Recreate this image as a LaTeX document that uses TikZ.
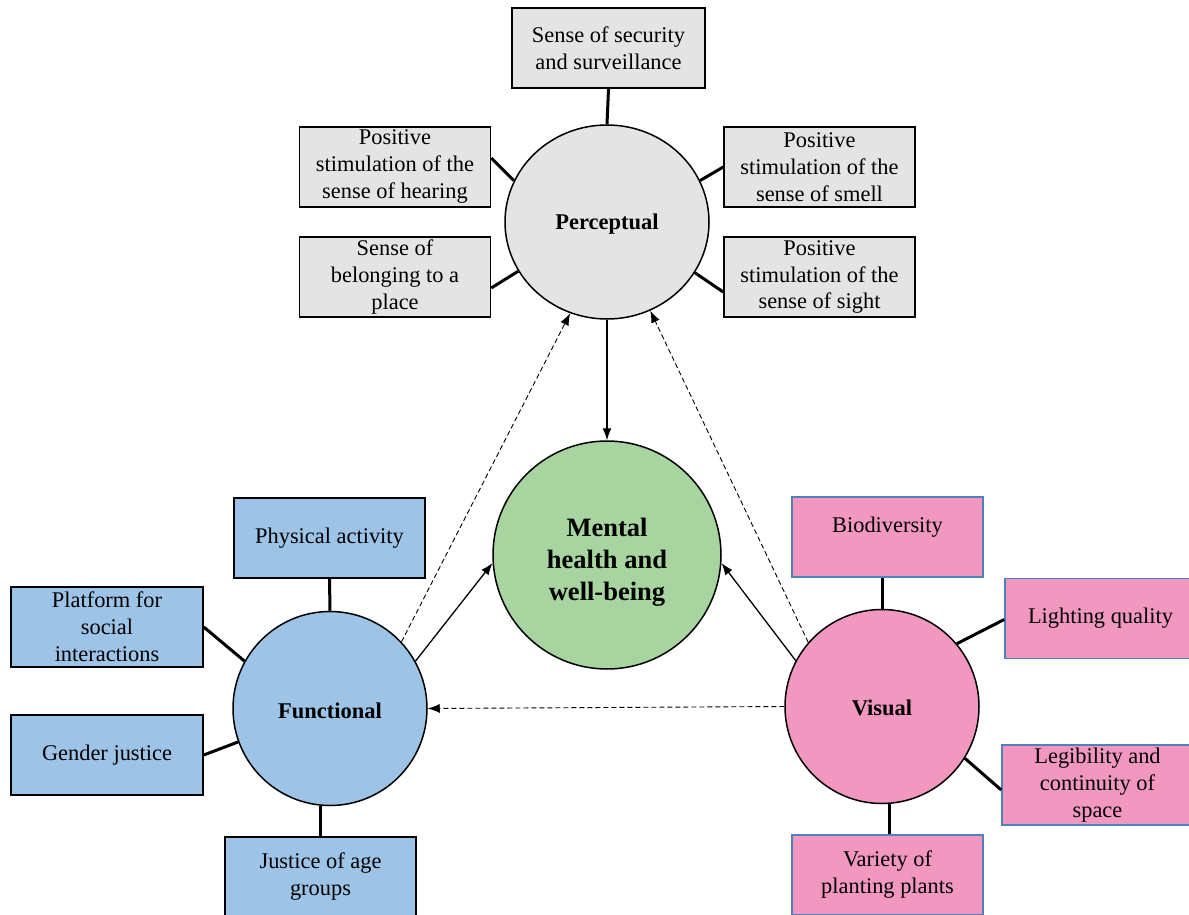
\documentclass[tikz,border=0pt]{standalone}
\usepackage{fontspec}
\setmainfont{Liberation Serif}
\usetikzlibrary{shapes.geometric,arrows.meta,calc}
\definecolor{grayfill}{HTML}{E3E4E3}
\definecolor{bluefill}{HTML}{9DC3E6}
\definecolor{greenfill}{HTML}{A8D49F}
\definecolor{pinkfill}{HTML}{F197C0}
\definecolor{pinkedge}{HTML}{4F81BD}
\begin{document}
\begin{tikzpicture}[x=1pt,y=-1pt,
  box/.style={draw=black, line width=1.5pt, minimum width=191pt, minimum height=80pt, inner sep=0pt, align=center, font=\fontsize{22.4}{27}\selectfont},
  gbox/.style={box, fill=grayfill},
  bbox/.style={box, fill=bluefill},
  pbox/.style={box, fill=pinkfill, draw=pinkedge},
  hub/.style={circle, draw=black, line width=1.5pt, minimum size=194pt, inner sep=0pt, align=center, font=\fontsize{22.5}{27}\selectfont\bfseries},
  link/.style={line width=3pt},
  flow/.style={line width=1.3pt, -{Latex[length=12pt,width=9pt]}},
  dflow/.style={line width=0.9pt, dash pattern=on 5pt off 3pt, -{Latex[length=12pt,width=9pt]}}
]
\useasboundingbox (0,0) rectangle (1189,915);
\clip (0,0) rectangle (1189,915);
\fill[white] (0,0) rectangle (1189,915);

% Perceptual
\node[hub, ellipse, fill=grayfill, minimum width=204pt, minimum height=194pt] (perc) at (607,222) {};
\node[font=\fontsize{22.5}{27}\selectfont\bfseries] (perctext) at (607,224) {Perceptual};
\node[gbox, minimum width=193pt] (sec) at (608.5,48) {Sense of security\\and surveillance};
\node[gbox] (hear) at (395,167) {Positive\\stimulation of the\\sense of hearing};
\node[gbox] (belong) at (395,277) {Sense of\\belonging to a\\place};
\node[gbox] (smell) at (819.5,167) {Positive\\stimulation of the\\sense of smell};
\node[gbox] (sight) at (819.5,277) {Positive\\stimulation of the\\sense of sight};

% Mental health
\node[hub, fill=greenfill, minimum size=228pt] (mental) at (607,555) {};
\node[align=center, font=\fontsize{26.5}{32}\selectfont\bfseries] (mentaltext) at (607,562) {Mental\\health and\\well-being};

% Functional
\node[hub, fill=bluefill] (func) at (330,708.5) {};
\node[font=\fontsize{22.5}{27}\selectfont\bfseries] (functext) at (330,711) {Functional};
\node[bbox] (phys) at (329.5,538) {Physical activity};
\node[bbox, minimum width=192pt] (plat) at (107,627) {Platform for\\social\\interactions};
\node[bbox, minimum width=192pt] (gender) at (107,755) {Gender justice};
\node[bbox] (just) at (320.5,877) {Justice of age\\groups};

% Visual
\node[hub, fill=pinkfill] (vis) at (882,706.5) {};
\node[font=\fontsize{22.5}{27}\selectfont\bfseries] (vistext) at (882,708) {Visual};
\node[pbox] (bio) at (887.5,537) {};
\node[font=\fontsize{22.4}{27}\selectfont] (biotext) at (887.5,527) {Biodiversity};
\node[pbox] (light) at (1100.5,618.5) {Lighting quality};
\node[pbox] (legib) at (1097.5,785) {Legibility and\\continuity of\\space};
\node[pbox] (var) at (887.5,875) {Variety of\\planting plants};

% box links
\draw[link] (sec.south) -- (perc.north);
\draw[link] ([yshift=9pt]hear.east) -- (perc.156);
\draw[link] ([yshift=-11pt]belong.east) -- (perc.209);
\draw[link] (smell.west) -- (perc.24);
\draw[link] ([yshift=-15pt]sight.west) -- (perc.-30);

\draw[link] (phys.south) -- (func.north);
\draw[link] (plat.east) -- (func.151);
\draw[link] (gender.east) -- (func.200);
\draw[link] (just.north) -- (just.north |- func.south);

\draw[link] (vis.north) -- (vis.north |- bio.south);
\draw[link] ([yshift=-1pt]light.west) -- (vis.40);
\draw[link] ([yshift=-5pt]legib.west) -- (vis.-32);
\draw[link] ([xshift=1.5pt]var.north) -- ([xshift=1.5pt]var.north |- vis.south);

% flows
\draw[flow] (perc.south) -- (mental.north);
\draw[flow] (func.29) -- (mental.184);
\draw[flow] (vis.152) -- (mental.-4);
\draw[dflow] (func.43) -- (perc.248);
\draw[dflow] (vis.139) -- (perc.296);
\draw[dflow] (vis.west) -- (func.east);
\end{tikzpicture}
\end{document}
